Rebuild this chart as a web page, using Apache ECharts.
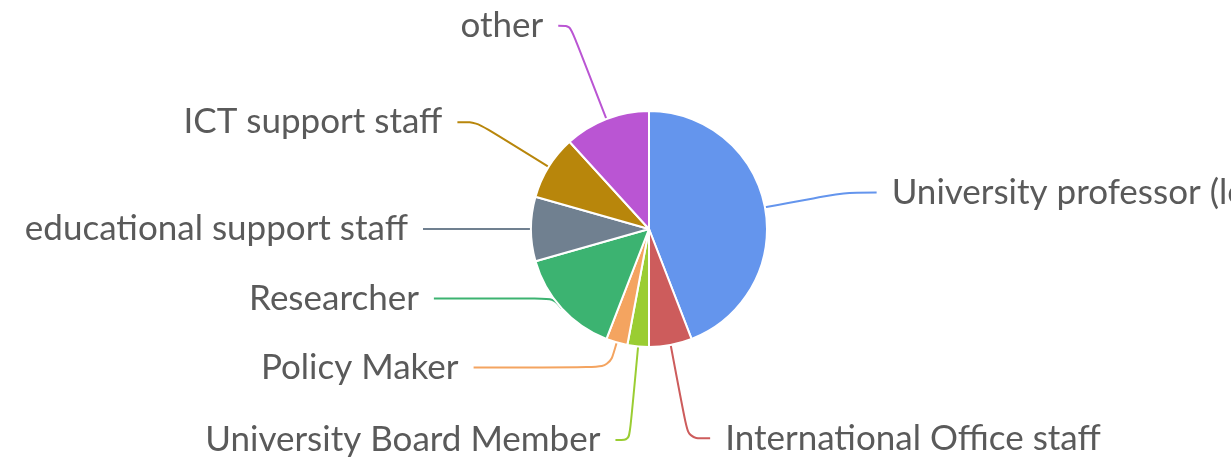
<!DOCTYPE html>
<html>
<head>
<meta charset="utf-8">
<script src="https://cdn.jsdelivr.net/npm/echarts@6/dist/echarts.min.js"></script>
<style>
  html, body { margin: 0; padding: 0; background: #fff; }
  #main { width: 1231px; height: 460px; }
</style>
</head>
<body>
<div id="main"></div>
<script>
// respondent roles and their counts
const roles = [
    'University professor (lecturer)',
    'International Office staff',
    'University Board Member',
    'Policy Maker',
    'Researcher',
    'educational support staff',
    'ICT support staff',
    'other'
];
const counts = [15, 2, 1, 1, 5, 3, 3, 4];
const colors = ['#6495ED', '#CD5C5C', '#9ACD32', '#F4A460', '#3CB371', '#708090', '#B8860B', '#BA55D3'];

// label line lengths per slice, [length, length2], to spread the labels like the original
const lineLen = {
    'University professor (lecturer)': [80, 33],
    'International Office staff': [95, 22],
    'University Board Member': [94, 14],
    'Policy Maker': [26, 136],
    'Researcher': [-15, 139],
    'educational support staff': [100, 8],
    'ICT support staff': [85, 19],
    'other': [100, 12]
};

const myChart = echarts.init(document.getElementById('main'));

const option = {
    color: colors,
    animation: false,
    series: [{
        type: 'pie',
        center: [649, 229],
        radius: 118,
        avoidLabelOverlap: false,
        itemStyle: {
            borderColor: '#fff',
            borderWidth: 2
        },
        label: {
            color: '#5a5a5a',
            fontSize: 35,
            fontFamily: 'Lato',
            width: 600,
            overflow: 'none',
            distanceToLabelLine: 15
        },
        labelLine: {
            smooth: 0.3,
            lineStyle: { width: 2 }
        },
        data: roles.map((name, i) => ({
            name: name,
            value: counts[i],
            labelLine: { length: lineLen[name][0], length2: lineLen[name][1] }
        }))
    }]
};
myChart.setOption(option);
</script>
</body>
</html>
